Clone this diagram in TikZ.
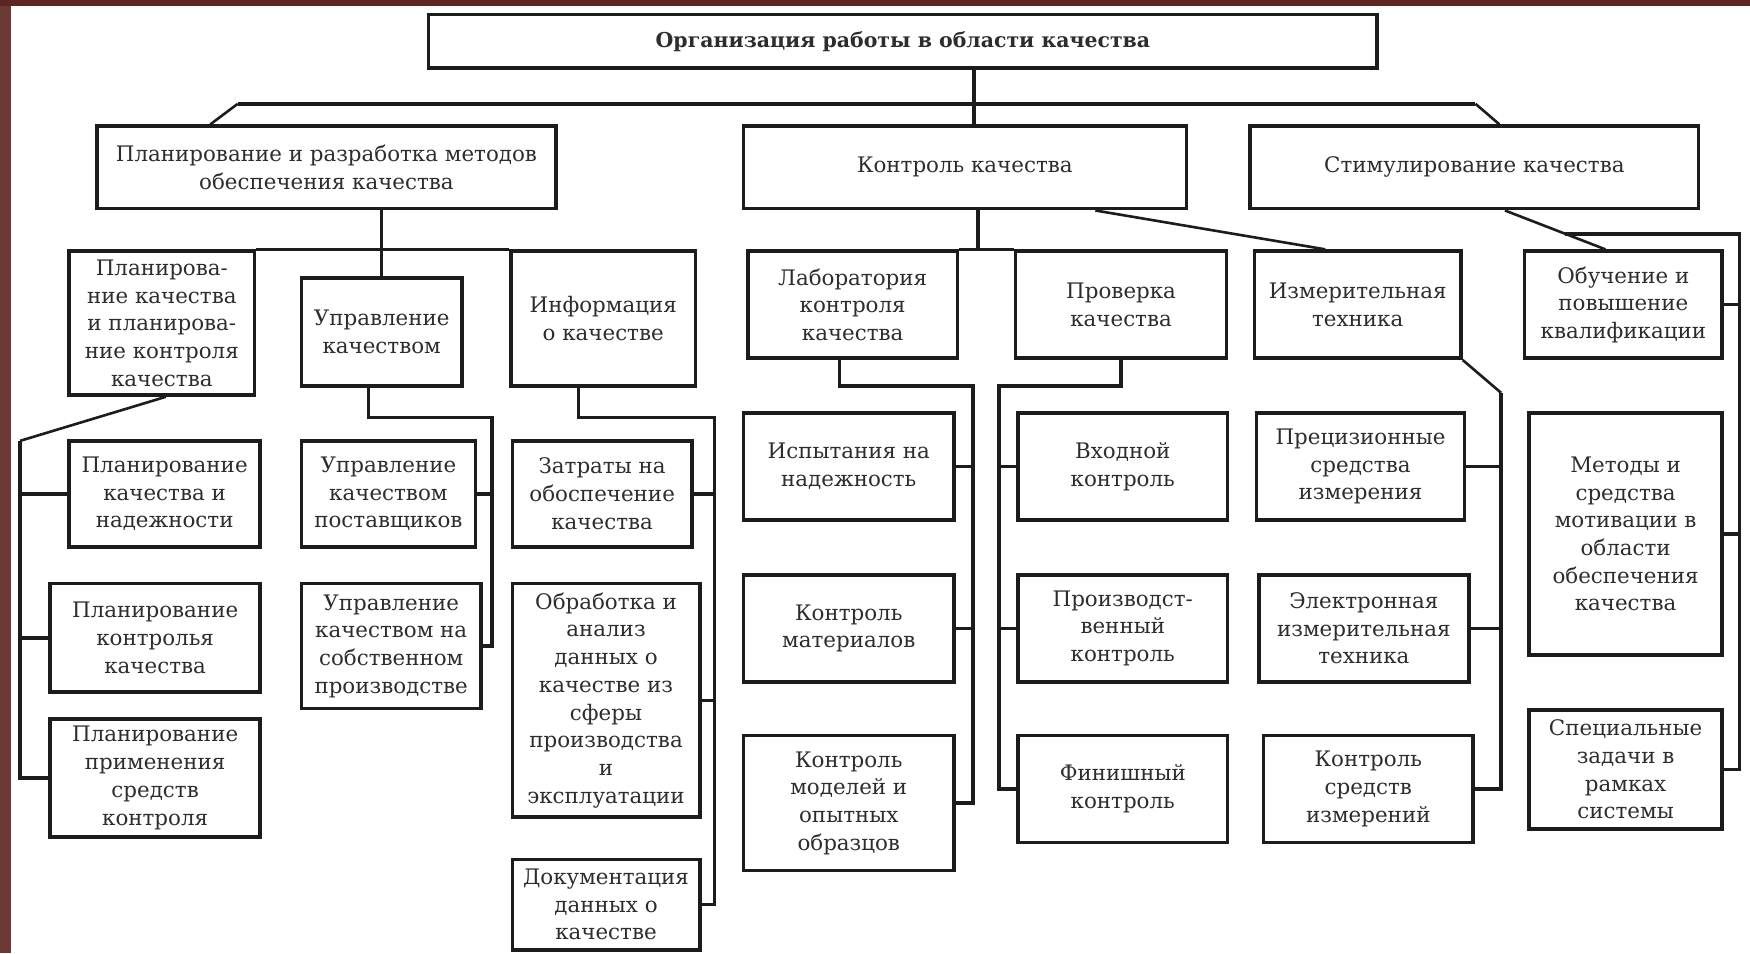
\documentclass[tikz,border=0pt]{standalone}
\usepackage{fontspec}
\setmainfont{DejaVu Serif}
\usetikzlibrary{calc}
\definecolor{frameA}{RGB}{108,58,52}
\definecolor{frameB}{RGB}{92,38,34}
\definecolor{ink}{RGB}{28,28,28}
\definecolor{txt}{RGB}{45,45,45}
\tikzset{
  box/.style={draw=ink, line width=1.9pt, fill=white, align=center, inner sep=0pt,
    font=\fontsize{11.5}{14.9}\selectfont, text=txt},
  conn/.style={draw=ink, line width=1.9pt},
  diag/.style={draw=ink, line width=1.4pt},
}
\newcommand{\mybox}[6]{%
  \pgfmathsetmacro{\mbcx}{(#2+#4)/2}%
  \pgfmathsetmacro{\mbcy}{(#3+#5)/2}%
  \pgfmathsetmacro{\mbw}{(#4-#2)*0.6}%
  \pgfmathsetmacro{\mbh}{(#5-#3)*0.6}%
  \node[box, minimum width=\mbw pt, minimum height=\mbh pt] (#1) at (\mbcx,\mbcy) {#6};%
}
\begin{document}
\begin{tikzpicture}[x=0.6pt,y=-0.6pt]
\useasboundingbox (0,0) rectangle (1568,854);
\fill[white] (0,0) rectangle (1568,854);
\fill[frameA] (0,0) rectangle (10,854);
\fill[frameB] (0,0) rectangle (1568,5);

\mybox{top}{384}{13}{1234}{61}{\fontsize{11}{14}\selectfont\textbf{Организация работы в области качества}}

\mybox{A}{87}{113}{498}{187}{Планирование и разработка методов\\обеспечения качества}
\mybox{B}{666}{113}{1063}{187}{Контроль качества}
\mybox{C}{1120}{113}{1522}{187}{Стимулирование качества}

\mybox{A1}{62}{225}{228}{354}{Планирова-\\ние качества\\и планирова-\\ние контроля\\качества}
\mybox{A2}{270}{249}{414}{346}{Управление\\качеством}
\mybox{A3}{458}{225}{623}{346}{Информация\\о качестве}

\mybox{A1a}{62}{395}{233}{490}{Планирование\\качества и\\надежности}
\mybox{A1b}{45}{523}{233}{620}{Планирование\\контролья\\качества}
\mybox{A1c}{45}{644}{233}{750}{Планирование\\применения\\средств\\контроля}

\mybox{A2a}{270}{395}{426}{490}{Управление\\качеством\\поставщиков}
\mybox{A2b}{270}{523}{431}{635}{Управление\\качеством на\\собственном\\производстве}

\mybox{A3a}{459}{395}{620}{490}{Затраты на\\обоспечение\\качества}
\mybox{A3b}{459}{523}{627}{732}{Обработка и\\анализ\\данных о\\качестве из\\сферы\\производства\\и\\эксплуатации}
\mybox{A3c}{459}{770}{627}{851}{Документация\\данных о\\качестве}

\mybox{B1}{670}{225}{858}{321}{Лаборатория\\контроля\\качества}
\mybox{B2}{910}{225}{1099}{321}{Проверка\\качества}
\mybox{B3}{1124}{225}{1309}{321}{Измерительная\\техника}

\mybox{B1a}{666}{370}{855}{466}{Испытания на\\надежность}
\mybox{B1b}{666}{515}{855}{611}{Контроль\\материалов}
\mybox{B1c}{666}{659}{855}{780}{Контроль\\моделей и\\опытных\\образцов}

\mybox{B2a}{912}{370}{1100}{466}{Входной\\контроль}
\mybox{B2b}{912}{515}{1100}{611}{Производст-\\венный\\контроль}
\mybox{B2c}{912}{659}{1100}{755}{Финишный\\контроль}

\mybox{B3a}{1126}{370}{1312}{466}{Прецизионные\\средства\\измерения}
\mybox{B3b}{1128}{515}{1316}{611}{Электронная\\измерительная\\техника}
\mybox{B3c}{1132}{659}{1320}{755}{Контроль\\средств\\измерений}

\mybox{C1}{1366}{225}{1543}{321}{Обучение и\\повышение\\квалификации}
\mybox{C2}{1370}{370}{1543}{587}{Методы и\\средства\\мотивации в\\области\\обеспечения\\качества}
\mybox{C3}{1370}{636}{1543}{743}{Специальные\\задачи в\\рамках\\системы}

% top level
\coordinate (tv) at ($(top.south -| B.north)+(8,0)$);
\draw[conn] (tv) -- (tv |- B.north);
\coordinate (barL) at (213,93);
\coordinate (barR) at (1322,93);
\draw[conn] (barL) -- (barR);
\draw[diag] (barL) -- ($(A.north west)+(103,0)$);
\draw[diag] (barR) -- ($(C.north west)+(225,0)$);

% A
\draw[conn] (A1.north east) -- (A3.north west);
\draw[conn] (A.south -| A2.north) -- (A2.north);

\coordinate (a1v) at (18,395);
\draw[diag] ($(A1.south west)+(88,0)$) -- (a1v);
\draw[conn] (a1v) |- (A1c.west);
\draw[conn] (a1v |- A1a.west) -- (A1a.west);
\draw[conn] (a1v |- A1b.west) -- (A1b.west);

\coordinate (a2h) at (441,374);
\draw[conn] ($(A2.south)+(-12,0)$) |- (a2h) |- (A2b.east);
\draw[conn] (a2h |- A2a.east) -- (A2a.east);

\coordinate (a3h) at (640,374);
\draw[conn] ($(A3.south)+(-22,0)$) |- (a3h) |- (A3c.east);
\draw[conn] (a3h |- A3a.east) -- (A3a.east);
\draw[conn] (a3h |- A3b.east) -- (A3b.east);

% B
\draw[conn] (B1.north east) -- (B2.north west);
\coordinate (bs) at ($(B.south)+(12,0)$);
\draw[conn] (bs) -- (bs |- B1.north);
\draw[diag] ($(B.south west)+(317,0)$) -- ($(B3.north west)+(65,0)$);

\coordinate (b1h) at (872,346);
\draw[conn] ($(B1.south)+(-12,0)$) |- (b1h) |- (B1c.east);
\draw[conn] (b1h |- B1a.east) -- (B1a.east);
\draw[conn] (b1h |- B1b.east) -- (B1b.east);

\coordinate (b2h) at (895,346);
\draw[conn] (B2.south) |- (b2h) |- (B2c.west);
\draw[conn] (b2h |- B2a.west) -- (B2a.west);
\draw[conn] (b2h |- B2b.west) -- (B2b.west);

\coordinate (b3v) at (1345,352);
\draw[diag] (B3.south east) -- (b3v);
\draw[conn] (b3v) |- (B3c.east);
\draw[conn] (b3v |- B3a.east) -- (B3a.east);
\draw[conn] (b3v |- B3b.east) -- (B3b.east);

% C
\coordinate (cs) at ($(C.south west)+(230,0)$);
\coordinate (ce) at ($(C1.north west)+(74,0)$);
\draw[diag] (cs) -- (ce);
\coordinate (cj) at ($(cs)!0.6!(ce)$);
\coordinate (cv) at ($(cj)+(156,0)$);
\draw[conn] (cj) -- (cv) |- (C3.east);
\draw[conn] (cv |- C1.east) -- (C1.east);
\draw[conn] (cv |- C2.east) -- (C2.east);
\end{tikzpicture}
\end{document}
